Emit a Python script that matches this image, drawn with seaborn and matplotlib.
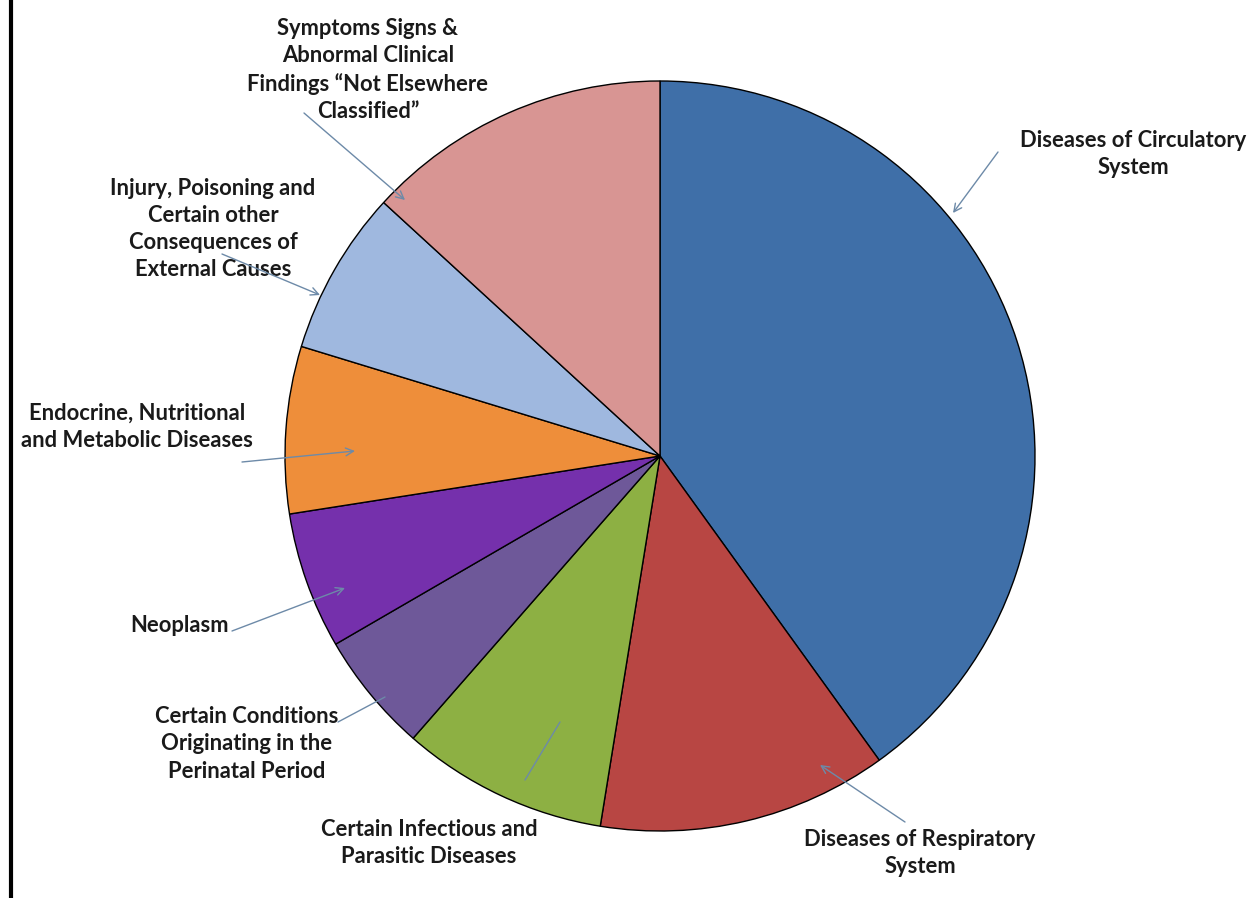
import matplotlib
matplotlib.use("Agg")
import matplotlib.pyplot as plt
import seaborn as sns
from matplotlib.lines import Line2D

# causes of death share (%), clockwise from 12 o'clock
causes = [
    "Diseases of Circulatory\nSystem",
    "Diseases of Respiratory\nSystem",
    "Certain Infectious and\nParasitic Diseases",
    "Certain Conditions\nOriginating in the\nPerinatal Period",
    "Neoplasm",
    "Endocrine, Nutritional\nand Metabolic Diseases",
    "Injury, Poisoning and\nCertain other\nConsequences of\nExternal Causes",
    "Symptoms Signs &\nAbnormal Clinical\nFindings \u201cNot Elsewhere\nClassified\u201d",
]
shares = [40.1, 12.5, 8.9, 5.2, 5.9, 7.2, 7.1, 13.2]
colors = ["#3f6fa8", "#b84643", "#8db043", "#6e5899", "#7530ac", "#ee8e3a", "#9fb8df", "#d89593"]

# label centre (px) and callout line (start, end, style) in px, same order as causes
label_xy = [(1133, 154), (920, 853), (429, 843), (247, 744),
            (180, 626), (137, 427), (213, 229), (368, 70)]
arrows = [((998, 152), (953, 213), "->"), ((905, 822), (820, 765), "->"),
          ((560, 722), (525, 780), "-"), ((385, 697), (338, 722), "-"),
          ((232, 631), (345, 588), "->"), ((242, 462), (355, 451), "->"),
          ((222, 254), (320, 295), "->"), ((304, 113), (405, 200), "->")]

sns.set_theme(style="white")
plt.rcParams["font.family"] = ["Lato", "DejaVu Sans"]

W, H = 1259, 898
fig = plt.figure(figsize=(W / 100, H / 100), dpi=100)
fig.patch.set_facecolor("white")

cx, cy, r = 660, 456, 375
ax = fig.add_axes([(cx - r) / W, (H - cy - r) / H, 2 * r / W, 2 * r / H])
ax.pie(shares, colors=colors, startangle=90, counterclock=False, radius=1,
       wedgeprops=dict(edgecolor="black", linewidth=1.0))
ax.set_xlim(-1, 1)
ax.set_ylim(-1, 1)
ax.set_axis_off()

# overlay in pixel coordinates for the callouts
ov = fig.add_axes([0, 0, 1, 1], facecolor="none")
ov.set_xlim(0, W)
ov.set_ylim(H, 0)
ov.set_axis_off()

for name, (tx, ty), (p0, p1, style) in zip(causes, label_xy, arrows):
    ov.text(tx, ty, name, ha="center", va="center", fontsize=15.8,
            fontweight="bold", color="#1a1a1a", linespacing=1.36)
    ov.annotate("", xy=p1, xytext=p0,
                arrowprops=dict(arrowstyle=style, color="#6d8aa8", lw=1.0,
                                shrinkA=0, shrinkB=0, mutation_scale=14))

# left border line
fig.add_artist(Line2D([11 / W, 11 / W], [0, 1], color="black", lw=3,
                      transform=fig.transFigure))

fig.savefig("out.png", dpi=100, facecolor="white")
